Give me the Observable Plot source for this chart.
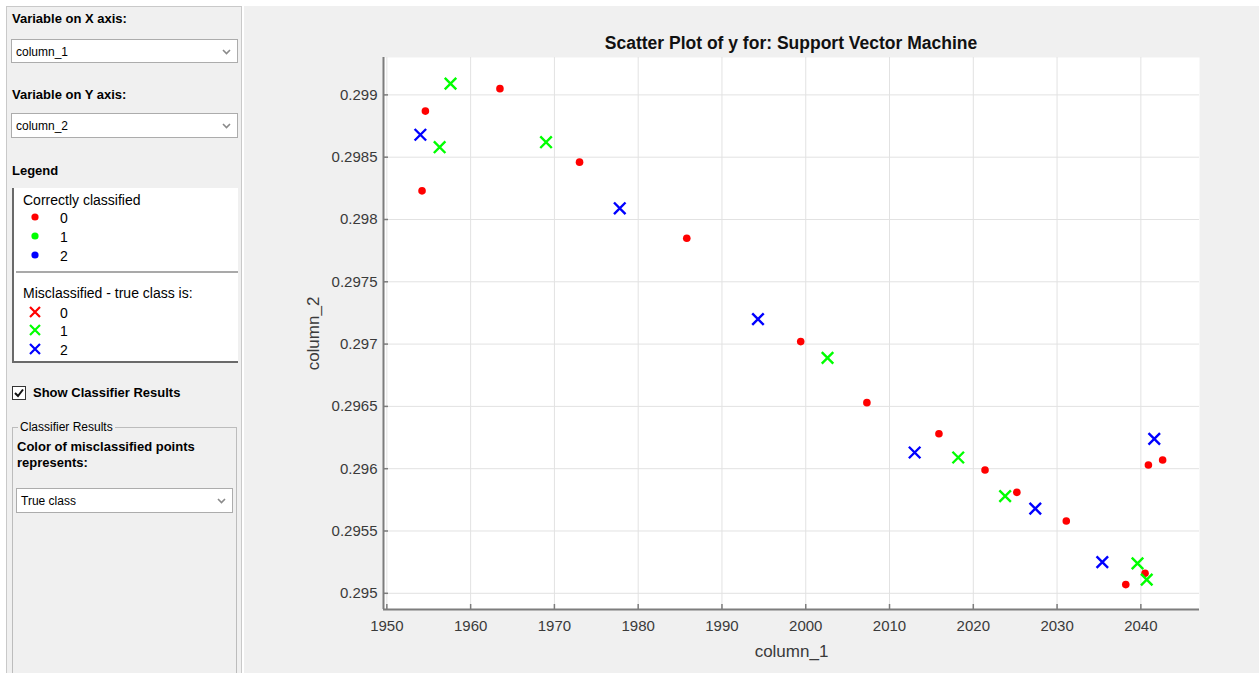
<!DOCTYPE html>
<html>
<head>
<meta charset="utf-8">
<script src="https://cdn.jsdelivr.net/npm/d3@7"></script>
<script src="https://cdn.jsdelivr.net/npm/@observablehq/plot@0.6"></script>
<style>
  html, body { margin: 0; padding: 0; }
  body {
    width: 1259px; height: 673px; overflow: hidden; position: relative;
    background: #ffffff;
    font-family: "Liberation Sans", Arial, Helvetica, sans-serif;
    color: #000;
  }
  .abs { position: absolute; white-space: nowrap; }
  #panel {
    left: 6px; top: 6px; width: 234px; height: 700px;
    background: #f0f0f0; border: 1px solid #c9c9c9;
  }
  #right {
    left: 243px; top: 6px; width: 1016px; height: 700px;
    background: #f0f0f0; border-left: 1px solid #ffffff;
  }
  .bold { font-weight: bold; font-size: 13px; line-height: 16px; }
  .dd {
    background: #fff; border: 1px solid #acacac; box-sizing: border-box;
    font-size: 12px; line-height: 24px; padding-left: 4px;
  }
  .dd svg { position: absolute; right: 6px; top: 9px; }
  #legendBox {
    left: 12px; top: 188px; width: 226px; height: 175px; box-sizing: border-box;
    background: #fff; border-left: 2px solid #6a6a6a; border-bottom: 2px solid #6a6a6a;
  }
  .lg { font-size: 14px; line-height: 16px; }
  #group {
    left: 12px; top: 427px; width: 225px; height: 300px; box-sizing: border-box;
    border: 1px solid #bcbcbc;
  }
  #title {
    left: 245px; width: 1092px; top: 33px; text-align: center;
    font-weight: bold; font-size: 17.5px; line-height: 20px; color: #111;
  }
  #chart { left: 245px; top: 6px; }
</style>
</head>
<body>
<div id="panel" class="abs"></div>
<div id="right" class="abs"></div>

<div class="abs bold" style="left:12px; top:11px;">Variable on X axis:</div>
<div class="abs dd" style="left:11px; top:39px; width:227px; height:24px;">column_1
  <svg width="9" height="6"><polyline points="1,1 4.5,4.5 8,1" fill="none" stroke="#8a8a8a" stroke-width="1.6"/></svg></div>

<div class="abs bold" style="left:12px; top:87px;">Variable on Y axis:</div>
<div class="abs dd" style="left:11px; top:113px; width:227px; height:25px;">column_2
  <svg width="9" height="6"><polyline points="1,1 4.5,4.5 8,1" fill="none" stroke="#8a8a8a" stroke-width="1.6"/></svg></div>

<div class="abs bold" style="left:12px; top:163px;">Legend</div>
<div id="legendBox" class="abs"></div>
<div class="abs lg" style="left:23px; top:192px;">Correctly classified</div>
<div class="abs" style="left:16px; top:271px; width:222px; height:2px; background:#a9a9a9;"></div>
<div class="abs lg" style="left:23px; top:285px;">Misclassified - true class is:</div>
<div id="legendRows"></div>

<svg class="abs" style="left:12px; top:386px;" width="15" height="15">
  <rect x="0.5" y="0.5" width="13" height="13" fill="#fff" stroke="#333"/>
  <polyline points="3,7 6,10 11,3.5" fill="none" stroke="#111" stroke-width="2"/>
</svg>
<div class="abs bold" style="left:33px; top:385px;">Show Classifier Results</div>

<div id="group" class="abs"></div>
<div class="abs" style="left:18px; top:420px; font-size:12px; line-height:14px; background:#f0f0f0; padding:0 2px;">Classifier Results</div>
<div class="abs bold" style="left:17px; top:439px;">Color of misclassified points</div>
<div class="abs bold" style="left:17px; top:455px;">represents:</div>
<div class="abs dd" style="left:16px; top:488px; width:217px; height:25px;">True class
  <svg width="9" height="6"><polyline points="1,1 4.5,4.5 8,1" fill="none" stroke="#8a8a8a" stroke-width="1.6"/></svg></div>

<div id="title" class="abs">Scatter Plot of y for: Support Vector Machine</div>
<div id="chart" class="abs"></div>

<script>
// Class labels and their marker colours
const classes = [0, 1, 2];
const classColors = ["#ff0000", "#00ff00", "#0000ff"];

// Correctly classified points (all of class 0)
const correct0X = [1954.6, 1954.2, 1963.5, 1973.0, 1985.8, 1999.4, 2007.3, 2015.9, 2021.4, 2025.2, 2031.1, 2038.2, 2040.5, 2040.9, 2042.6];
const correct0Y = [0.29887, 0.29823, 0.29905, 0.29846, 0.29785, 0.29702, 0.29653, 0.29628, 0.29599, 0.29581, 0.29558, 0.29507, 0.29516, 0.29603, 0.29607];

// Misclassified points whose true class is 1
const missed1X = [1957.6, 1956.3, 1969.0, 2002.6, 2018.2, 2023.8, 2039.6, 2040.7];
const missed1Y = [0.29909, 0.29858, 0.29862, 0.29689, 0.29609, 0.29578, 0.29524, 0.29511];

// Misclassified points whose true class is 2
const missed2X = [1954.0, 1977.8, 1994.3, 2013.0, 2027.4, 2035.4, 2041.6];
const missed2Y = [0.29868, 0.29809, 0.29720, 0.29613, 0.29568, 0.29525, 0.29624];

// Axis ticks
const xTicks = [1950, 1960, 1970, 1980, 1990, 2000, 2010, 2020, 2030, 2040];
const yTicks = [0.295, 0.2955, 0.296, 0.2965, 0.297, 0.2975, 0.298, 0.2985, 0.299];
const xDomain = [1949.6, 2047];
const yDomain = [0.29487, 0.2993];

const toRows = (xs, ys, cls) => xs.map((x, i) => ({x, y: ys[i], cls}));
const correctPts = toRows(correct0X, correct0Y, 0);
const missedPts = [...toRows(missed1X, missed1Y, 1), ...toRows(missed2X, missed2Y, 2)];

// Legend rows in the side panel
const rowsEl = document.getElementById("legendRows");
const rowYs = {dot: [217, 236, 255], cross: [312, 330, 349]};
for (const kind of ["dot", "cross"]) {
  classes.forEach((c, i) => {
    const cy = rowYs[kind][i];
    const glyph = kind === "dot"
      ? `<circle cx="7" cy="7" r="3.6" fill="${classColors[i]}"/>`
      : `<path d="M2,2L12,12M2,12L12,2" stroke="${classColors[i]}" stroke-width="2.2"/>`;
    rowsEl.insertAdjacentHTML("beforeend",
      `<svg class="abs" style="left:${28}px; top:${cy - 7}px" width="14" height="14">${glyph}</svg>` +
      `<div class="abs lg" style="left:60px; top:${cy - 7}px">${c}</div>`);
  });
}

const axisGray = "#7d7d7d";
const chart = Plot.plot({
  width: 1014,
  height: 667,
  marginLeft: 138,
  marginRight: 60,
  marginTop: 51,
  marginBottom: 64,
  style: {
    background: "transparent",
    fontFamily: "'Liberation Sans', Arial, sans-serif",
    fontSize: "15px",
    color: "#3a3a3a"
  },
  x: {domain: xDomain},
  y: {domain: yDomain},
  color: {domain: classes, range: classColors},
  marks: [
    Plot.frame({fill: "#ffffff", stroke: null}),
    Plot.gridX(xTicks, {stroke: "#e2e2e2", strokeOpacity: 1}),
    Plot.gridY(yTicks, {stroke: "#e2e2e2", strokeOpacity: 1}),
    Plot.ruleX([xDomain[0]], {stroke: axisGray, strokeWidth: 2}),
    Plot.ruleY([yDomain[0]], {stroke: axisGray, strokeWidth: 2}),
    Plot.axisX(xTicks, {
      tickSize: -5, tickPadding: 16, stroke: axisGray, strokeWidth: 1.5,
      tickFormat: d3.format("d"),
      label: "column_1", labelAnchor: "center", labelOffset: 47, labelArrow: "none",
      fontSize: 15
    }),
    Plot.axisY(yTicks, {
      tickSize: -5, tickPadding: 11, stroke: axisGray, strokeWidth: 1.5,
      tickFormat: d3.format("~g"),
      label: "column_2", labelAnchor: "center", labelOffset: 77, labelArrow: "none",
      fontSize: 15
    }),
    Plot.dot(correctPts, {x: "x", y: "y", fill: "cls", r: 3.8}),
    Plot.dot(missedPts, {x: "x", y: "y", stroke: "cls", symbol: "times", r: 5.3, strokeWidth: 2.4})
  ]
});
chart.querySelectorAll("[aria-label$='axis label'] text, [aria-label$='axis label']").forEach(el => {
  el.setAttribute("font-size", "17");
});
document.getElementById("chart").appendChild(chart);
</script>
</body>
</html>
